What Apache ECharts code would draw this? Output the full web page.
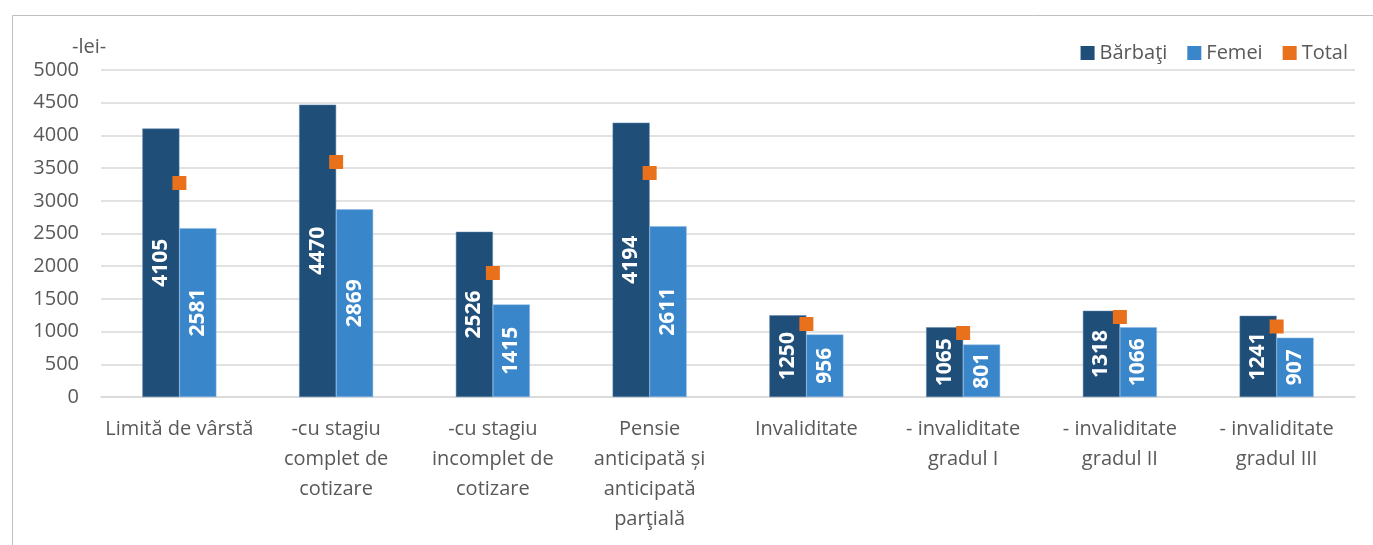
<!DOCTYPE html>
<html>
<head>
<meta charset="utf-8">
<script src="https://cdn.jsdelivr.net/npm/echarts@6/dist/echarts.min.js"></script>
<style>
  html, body { margin: 0; padding: 0; background: #fff; }
  #chart { width: 1373px; height: 545px; }
</style>
</head>
<body>
<div id="chart"></div>
<script>
const categories = [
  'Limită de vârstă',
  '-cu stagiu\ncomplet de\ncotizare',
  '-cu stagiu\nincomplet de\ncotizare',
  'Pensie\nanticipată și\nanticipată\nparţială',
  'Invaliditate',
  '- invaliditate\ngradul I',
  '- invaliditate\ngradul II',
  '- invaliditate\ngradul III'
]
const barbati = [4105, 4470, 2526, 4194, 1250, 1065, 1318, 1241]
const femei = [2581, 2869, 1415, 2611, 956, 801, 1066, 907]
const total = [3272, 3593, 1896, 3425, 1116, 979, 1223, 1078]

const font = '"Open Sans", "Noto Sans", sans-serif'
const textColor = '#595959'

const chart = echarts.init(document.getElementById('chart'))

const barLabel = {
  show: true,
  position: 'inside',
  rotate: 90,
  color: '#fff',
  fontFamily: font,
  fontWeight: 'bold',
  fontSize: 21
}

chart.setOption({
  animation: false,
  textStyle: { fontFamily: font },
  graphic: [
    {
      type: 'rect',
      shape: { x: 12.5, y: 15.5, width: 1400, height: 600 },
      style: { fill: 'none', stroke: '#BFBFBF', lineWidth: 1 },
      silent: true
    },
    {
      type: 'text',
      left: 72,
      top: 37,
      style: { text: '-lei-', fill: textColor, font: '20px ' + font }
    }
  ],
  legend: {
    right: 20,
    top: 38,
    itemWidth: 14,
    itemHeight: 14,
    itemGap: 20,
    icon: 'rect',
    itemStyle: { borderWidth: 0, opacity: 1 },
    textStyle: { color: textColor, fontSize: 20, fontFamily: font },
    data: ['Bărbaţi', 'Femei', 'Total']
  },
  grid: {
    left: 101,
    right: 18,
    top: 70,
    bottom: 148
  },
  xAxis: {
    type: 'category',
    data: categories,
    axisTick: { show: false },
    axisLine: { lineStyle: { color: '#D9D9D9', width: 1.5 } },
    axisLabel: {
      color: textColor,
      fontSize: 20,
      lineHeight: 30,
      margin: 17,
      interval: 0,
      fontFamily: font
    }
  },
  yAxis: {
    type: 'value',
    min: 0,
    max: 5000,
    interval: 500,
    axisLine: { show: false },
    axisTick: { show: false },
    splitLine: { lineStyle: { color: '#D9D9D9', width: 1.5 } },
    axisLabel: {
      color: textColor,
      fontSize: 20,
      margin: 22,
      fontFamily: font,
      formatter: (v) => String(v)
    }
  },
  series: [
    {
      name: 'Bărbaţi',
      type: 'bar',
      data: barbati,
      barWidth: 37,
      barGap: '0%',
      itemStyle: { color: '#1F4E79', borderColor: '#5B84AE', borderWidth: 0.5 },
      label: barLabel
    },
    {
      name: 'Femei',
      type: 'bar',
      data: femei,
      barWidth: 37,
      itemStyle: { color: '#3A86CB', borderColor: '#8DB9E2', borderWidth: 0.5 },
      label: barLabel
    },
    {
      name: 'Total',
      type: 'scatter',
      data: total,
      symbol: 'rect',
      symbolSize: 14,
      itemStyle: { color: '#E9711C', opacity: 1 },
      z: 5
    }
  ]
})

window.addEventListener('resize', () => {
  chart.resize()
})
</script>
</body>
</html>
